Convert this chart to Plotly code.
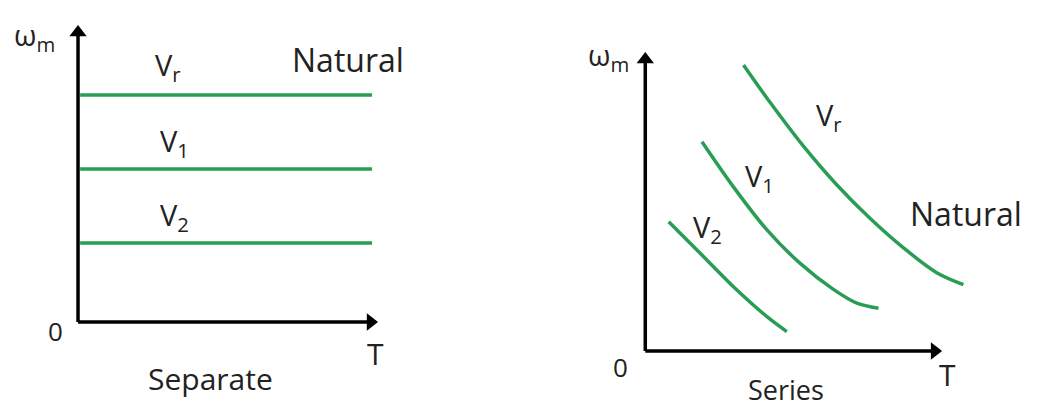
import plotly.graph_objects as go

# Separate excitation: constant speed lines
sep_x = [0.07, 9.8]
sep_levels = {"Vr": 7.64, "V1": 5.15, "V2": 2.66}

# Series excitation: falling curves
ser_vr_x = [3.31, 4.21, 5.33, 6.45, 7.58, 8.70, 9.82, 10.72]
ser_vr_y = [9.57, 8.31, 6.85, 5.56, 4.43, 3.45, 2.62, 2.22]
ser_v1_x = [1.91, 2.97, 4.10, 5.22, 6.34, 7.13, 7.86]
ser_v1_y = [7.00, 5.49, 4.05, 2.93, 2.06, 1.60, 1.43]
ser_v2_x = [0.79, 1.85, 2.97, 4.10, 4.77]
ser_v2_y = [4.32, 3.27, 2.15, 1.15, 0.65]

# axis extents (origin to arrow tip)
axis_len = 10.0

GREEN = "#2a9d55"
FONT = "Open Sans"

fig = go.Figure()

for name, lvl in sep_levels.items():
    fig.add_trace(go.Scatter(x=sep_x, y=[lvl, lvl], mode="lines",
                             line=dict(color=GREEN, width=3.5),
                             xaxis="x", yaxis="y", showlegend=False, hoverinfo="skip"))

for xs, ys in [(ser_vr_x, ser_vr_y), (ser_v1_x, ser_v1_y), (ser_v2_x, ser_v2_y)]:
    fig.add_trace(go.Scatter(x=xs, y=ys, mode="lines",
                             line=dict(color=GREEN, width=3.5, shape="spline", smoothing=0.9),
                             xaxis="x2", yaxis="y2", showlegend=False, hoverinfo="skip"))

# axes drawn as arrows
for xr, yr in [("x", "y"), ("x2", "y2")]:
    fig.add_trace(go.Scatter(x=[0, 0, None, 0, axis_len - 0.3], y=[axis_len - 0.3, 0, None, 0, 0],
                             mode="lines", line=dict(color="black", width=3.5),
                             xaxis=xr, yaxis=yr, showlegend=False, hoverinfo="skip"))
    fig.add_trace(go.Scatter(x=[0], y=[axis_len - 0.25], mode="markers",
                             marker=dict(symbol="triangle-up", size=15, color="black"),
                             xaxis=xr, yaxis=yr, showlegend=False, hoverinfo="skip"))
    fig.add_trace(go.Scatter(x=[axis_len - 0.25], y=[0], mode="markers",
                             marker=dict(symbol="triangle-right", size=15, color="black"),
                             xaxis=xr, yaxis=yr, showlegend=False, hoverinfo="skip"))

ann = []

def txt(x, y, t, xr, yr, size=30):
    ann.append(dict(x=x, y=y, xref=xr, yref=yr, text=t, showarrow=False,
                    font=dict(family=FONT, size=size, color="#222")))

# left labels
txt(-1.45, 9.6, "ω<sub>m</sub>", "x", "y", 29)
txt(3.0, 8.6, "V<sub>r</sub>", "x", "y", 29)
txt(3.2, 6.05, "V<sub>1</sub>", "x", "y", 29)
txt(3.2, 3.55, "V<sub>2</sub>", "x", "y", 29)
txt(9.0, 8.85, "Natural", "x", "y", 32)
txt(-0.75, -0.3, "0", "x", "y", 26)
txt(9.9, -1.05, "T", "x", "y", 30)
txt(4.4, -1.9, "Separate", "x", "y", 30)

# right labels
txt(-1.25, 9.85, "ω<sub>m</sub>", "x2", "y2", 29)
txt(6.2, 7.85, "V<sub>r</sub>", "x2", "y2", 29)
txt(3.85, 5.8, "V<sub>1</sub>", "x2", "y2", 29)
txt(2.1, 4.1, "V<sub>2</sub>", "x2", "y2", 29)
txt(10.8, 4.6, "Natural", "x2", "y2", 32)
txt(-0.85, -0.55, "0", "x2", "y2", 26)
txt(10.2, -0.8, "T", "x2", "y2", 30)
txt(4.75, -1.3, "Series", "x2", "y2", 27)

hidden = dict(visible=False, showgrid=False, zeroline=False, fixedrange=True)
fig.update_layout(
    width=1037, height=408, margin=dict(l=0, r=0, t=0, b=0),
    paper_bgcolor="white", plot_bgcolor="white",
    xaxis=dict(domain=[0, 0.5], range=[-2.6, 14.68], **hidden),
    yaxis=dict(domain=[0, 1], range=[-2.896, 10.84], **hidden),
    xaxis2=dict(domain=[0.55, 1.0], range=[-2.525, 13.2], anchor="y2", **hidden),
    yaxis2=dict(domain=[0, 1], range=[-1.906, 11.74], anchor="x2", **hidden),
    annotations=ann,
)

fig.write_html("out.html", config={"displayModeBar": False},
               post_script="document.body.style.margin='0';document.body.style.overflow='hidden';")
